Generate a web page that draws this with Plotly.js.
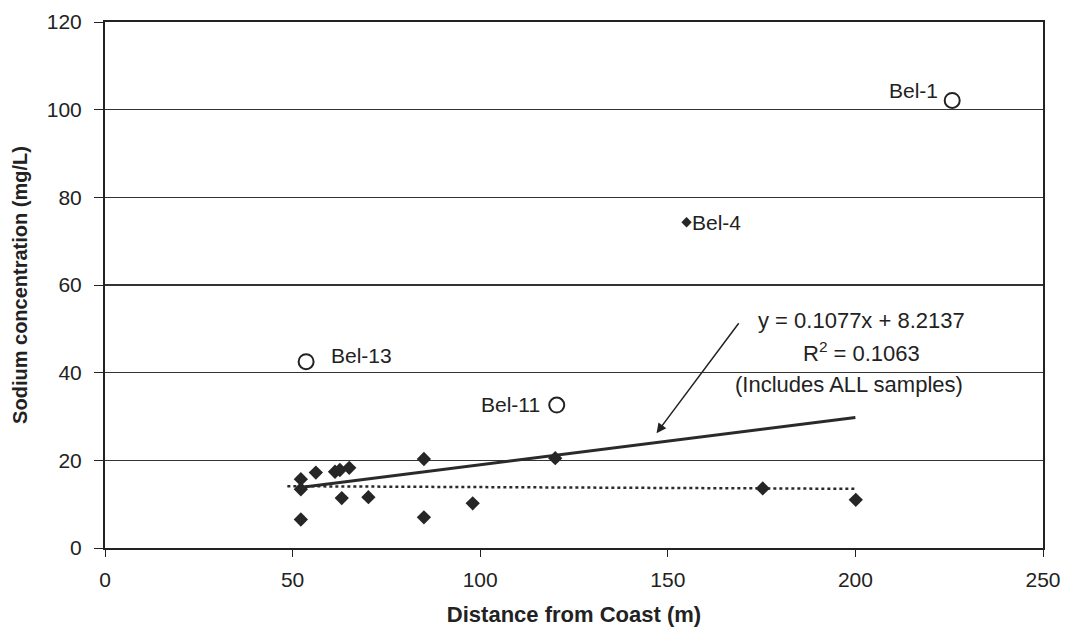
<!DOCTYPE html>
<html>
<head>
<meta charset="utf-8">
<script src="https://cdn.plot.ly/plotly-3.0.1.min.js"></script>
<style>html,body{margin:0;padding:0;background:#fff;}#chart{width:1066px;height:633px;}</style>
</head>
<body>
<div id="chart"></div>
<script>
// Regular samples (diamonds)
const sampleX = [52.2, 52.2, 56.2, 61.3, 62.6, 65.1, 63.1, 70.2, 52.2, 85.0, 85.0, 98.0, 120.0, 175.3, 200.1];
const sampleY = [15.7, 13.4, 17.2, 17.4, 17.8, 18.3, 11.4, 11.6, 6.5, 20.3, 7.0, 10.2, 20.5, 13.6, 11.0];
// Bel-4 (small diamond)
const bel4X = [155.0];
const bel4Y = [74.3];
// Outlier wells (open circles)
const outlierNames = ["Bel-1", "Bel-13", "Bel-11"];
const outlierX = [225.8, 53.6, 120.4];
const outlierY = [102.1, 42.5, 32.6];
// Linear trend (all samples)
const trendSlope = 0.1077;
const trendIntercept = 8.2137;
const trendXRange = [52, 200];
// Dotted trend (excluding outliers)
const dottedX = [48.6, 200];
const dottedY = [14.1, 13.5];
// Axis ticks
const xTicks = [0, 50, 100, 150, 200, 250];
const yTicks = [0, 20, 40, 60, 80, 100, 120];

const trendY = trendXRange.map(x => trendSlope * x + trendIntercept);

const font = "Liberation Sans, Arial, sans-serif";
const txt = "#222";

const traces = [
  {x: trendXRange, y: trendY, mode: "lines", line: {color: "#2a2a2a", width: 3}, hoverinfo: "skip"},
  {x: dottedX, y: dottedY, mode: "lines", line: {color: "#2a2a2a", width: 2.5, dash: "dot"}, hoverinfo: "skip"},
  {x: sampleX, y: sampleY, mode: "markers", marker: {symbol: "diamond", size: 11, color: "#262626"}},
  {x: bel4X, y: bel4Y, mode: "markers", marker: {symbol: "diamond", size: 8, color: "#262626"}},
  {x: outlierX, y: outlierY, mode: "markers", marker: {symbol: "circle", size: 15, color: "#ffffff", line: {color: "#222", width: 2}}}
];

const annFont = {family: font, size: 21, color: txt};
const eqFont = {family: font, size: 22, color: txt};
const annotations = [
  {x: outlierX[0], y: outlierY[0], text: outlierNames[0], showarrow: false, xanchor: "right", yanchor: "middle", xshift: -12, yshift: 10, font: annFont},
  {x: outlierX[1], y: outlierY[1], text: outlierNames[1], showarrow: false, xanchor: "left", yanchor: "middle", xshift: 23, yshift: 6, font: annFont},
  {x: outlierX[2], y: outlierY[2], text: outlierNames[2], showarrow: false, xanchor: "right", yanchor: "middle", xshift: -15, yshift: 1, font: annFont},
  {x: bel4X[0], y: bel4Y[0], text: "Bel-4", showarrow: false, xanchor: "left", yanchor: "middle", xshift: 3, yshift: 0, font: annFont},
  {x: 147.0, y: 26.2, ax: 169.2, ay: 51.6, axref: "x", ayref: "y", text: "", showarrow: true, arrowhead: 2, arrowsize: 1.3, arrowwidth: 1.5, arrowcolor: txt},
  {xref: "paper", yref: "paper", x: (861 - 105) / 938, y: (548 - 321) / 526, xanchor: "center", yanchor: "middle", text: "y = 0.1077x + 8.2137", showarrow: false, font: eqFont},
  {xref: "paper", yref: "paper", x: (861 - 105) / 938, y: (548 - 352) / 526, xanchor: "center", yanchor: "middle", text: "R<sup>2</sup> = 0.1063", showarrow: false, font: eqFont},
  {xref: "paper", yref: "paper", x: (849 - 105) / 938, y: (548 - 384) / 526, xanchor: "center", yanchor: "middle", text: "(Includes ALL samples)", showarrow: false, font: eqFont}
];

const layout = {
  width: 1066, height: 633,
  margin: {l: 105, r: 23, t: 22, b: 85},
  paper_bgcolor: "#fff", plot_bgcolor: "#fff",
  showlegend: false,
  xaxis: {
    range: [0, 250], tickvals: xTicks, ticks: "outside", ticklen: 7, tickcolor: txt,
    ticklabelstandoff: 5,
    showgrid: false, zeroline: false, showline: true, linecolor: txt, linewidth: 2, mirror: true,
    tickfont: {family: font, size: 21, color: txt},
    title: {text: "<b>Distance from Coast (m)</b>", font: {family: font, size: 22, color: txt}, standoff: 16}
  },
  yaxis: {
    range: [0, 120], tickvals: yTicks, ticks: "outside", ticklen: 9, tickcolor: txt,
    ticklabelstandoff: 8,
    showgrid: true, gridcolor: "#333", gridwidth: 1.2, zeroline: false,
    showline: true, linecolor: txt, linewidth: 2, mirror: true,
    tickfont: {family: font, size: 21, color: txt},
    title: {text: "<b>Sodium concentration (mg/L)</b>", font: {family: font, size: 20, color: txt}, standoff: 14}
  },
  annotations: annotations
};

Plotly.newPlot("chart", traces, layout, {staticPlot: true, displayModeBar: false});
</script>
</body>
</html>
